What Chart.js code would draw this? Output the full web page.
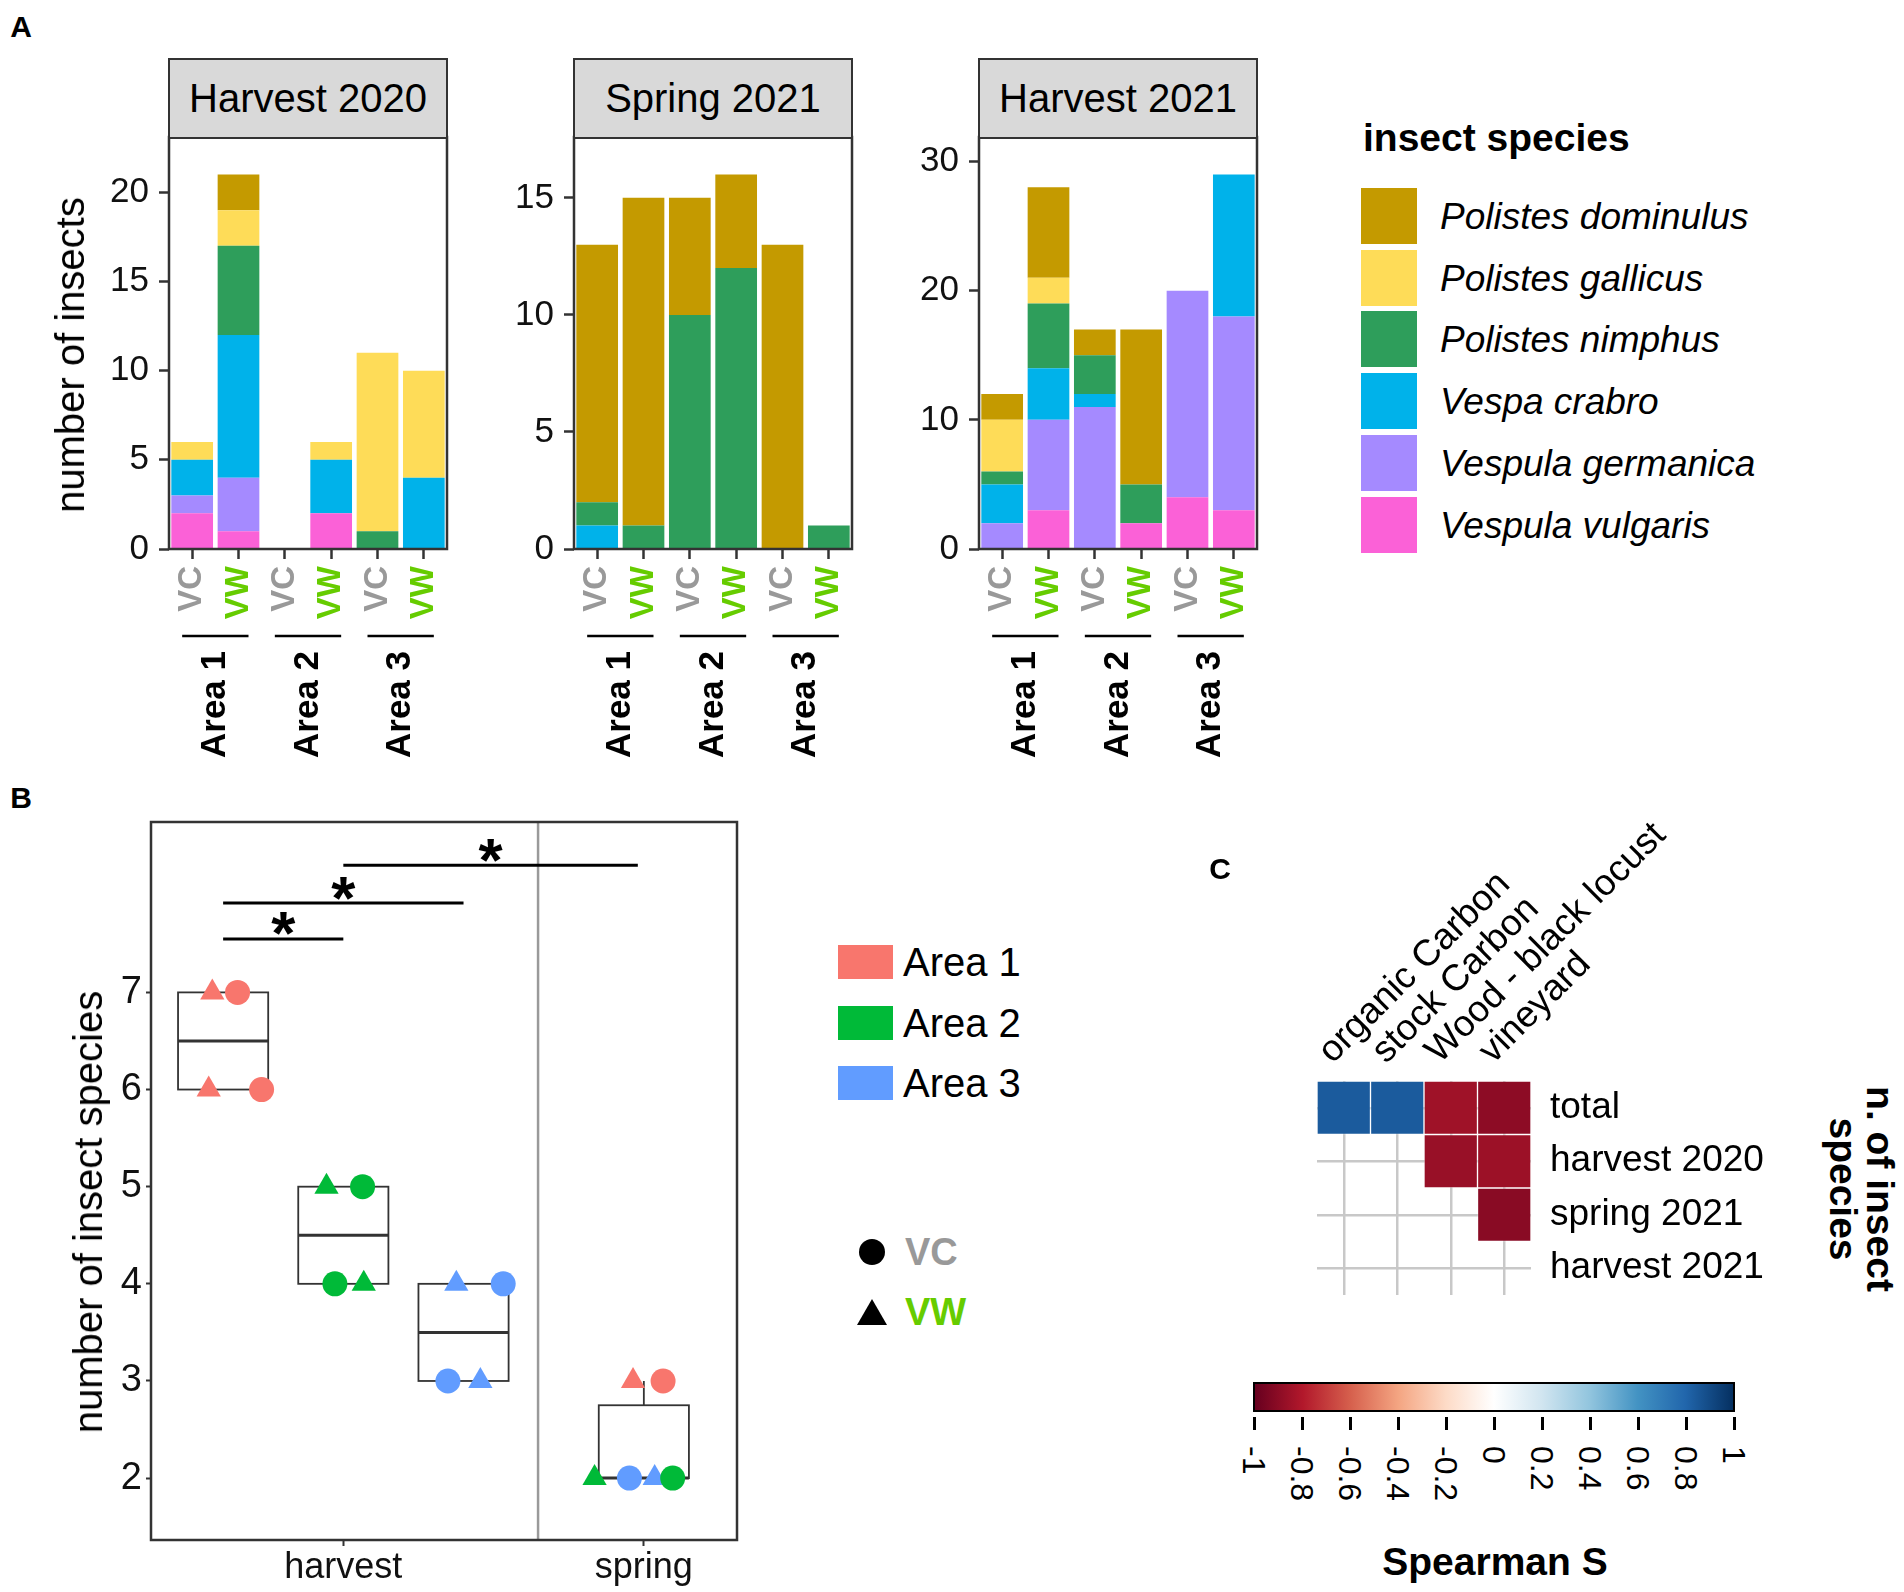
<!DOCTYPE html>
<html>
<head>
<meta charset="utf-8">
<title>Insect species by area and season</title>
<script src="https://cdn.jsdelivr.net/npm/chart.js@4.4.1/dist/chart.umd.min.js"></script>
<style>
  html, body { margin: 0; padding: 0; background: #fff; }
  body { position: relative; width: 1904px; height: 1592px; overflow: hidden;
         font-family: "Liberation Sans", Arial, Helvetica, sans-serif; color: #000; }
  .lbl { position: absolute; white-space: nowrap; line-height: 1; }
  .strip { position: absolute; box-sizing: border-box; background: #d9d9d9; border: 2px solid #333;
           display: flex; align-items: center; justify-content: center; font-size: 40px; }
  .box { position: absolute; }
</style>
</head>
<body>
<script>
// --- Panel A: số lượng côn trùng theo vị trí (A1 VC, A1 VW, A2 VC, A2 VW, A3 VC, A3 VW) ---
const SITES = ['VC', 'VW', 'VC', 'VW', 'VC', 'VW'];
const SITE_COLORS = ['#999999', '#66cc00'];
const AREAS = ['Area 1', 'Area 2', 'Area 3'];
const SPECIES = ['Polistes dominulus', 'Polistes gallicus', 'Polistes nimphus',
                 'Vespa crabro', 'Vespula germanica', 'Vespula vulgaris'];
const SPECIES_COLORS = ['#c49a00', '#fedc58', '#2e9e5b', '#00b2ea', '#a58aff', '#fb61d7'];

const h20_dominulus = [0, 2, 0, 0, 0, 0];
const h20_gallicus  = [1, 2, 0, 1, 10, 6];
const h20_nimphus   = [0, 5, 0, 0, 1, 0];
const h20_crabro    = [2, 8, 0, 3, 0, 4];
const h20_germanica = [1, 3, 0, 0, 0, 0];
const h20_vulgaris  = [2, 1, 0, 2, 0, 0];

const s21_dominulus = [11, 14, 5, 4, 13, 0];
const s21_gallicus  = [0, 0, 0, 0, 0, 0];
const s21_nimphus   = [1, 1, 10, 12, 0, 1];
const s21_crabro    = [1, 0, 0, 0, 0, 0];
const s21_germanica = [0, 0, 0, 0, 0, 0];
const s21_vulgaris  = [0, 0, 0, 0, 0, 0];

const h21_dominulus = [2, 7, 2, 12, 0, 0];
const h21_gallicus  = [4, 2, 0, 0, 0, 0];
const h21_nimphus   = [1, 5, 3, 3, 0, 0];
const h21_crabro    = [3, 4, 1, 0, 0, 11];
const h21_germanica = [2, 7, 11, 0, 16, 15];
const h21_vulgaris  = [0, 3, 0, 2, 4, 3];

const TICKS_H20 = [0, 5, 10, 15, 20];
const TICKS_S21 = [0, 5, 10, 15];
const TICKS_H21 = [0, 10, 20, 30];

// --- Panel B: số loài côn trùng ---
const AREA_COLORS = ['#f8766d', '#00ba38', '#619cff'];
const B_XTICKS = [2, 4.5];
const B_XLABELS = ['harvest', 'spring'];
const B_YTICKS = [2, 3, 4, 5, 6, 7];
const SEASON_SPLIT = 3.62;
const BOX_X   = [1, 2, 3, 4.5];
const BOX_LO  = [6, 4, 3, 2];
const BOX_Q1  = [6, 4, 3, 2];
const BOX_MED = [6.5, 4.5, 3.5, 2];
const BOX_Q3  = [7, 5, 4, 2.75];
const BOX_HI  = [7, 5, 4, 3];
const b_area1_vc = [{x: 1.12, y: 7}, {x: 1.32, y: 6}, {x: 4.66, y: 3}];
const b_area1_vw = [{x: 0.91, y: 7}, {x: 0.88, y: 6}, {x: 4.41, y: 3}];
const b_area2_vc = [{x: 2.16, y: 5}, {x: 1.93, y: 4}, {x: 4.74, y: 2}];
const b_area2_vw = [{x: 1.86, y: 5}, {x: 2.17, y: 4}, {x: 4.09, y: 2}];
const b_area3_vc = [{x: 3.33, y: 4}, {x: 2.87, y: 3}, {x: 4.38, y: 2}];
const b_area3_vw = [{x: 2.94, y: 4}, {x: 3.14, y: 3}, {x: 4.59, y: 2}];
const SIG_FROM = [1, 1, 2];
const SIG_TO   = [2, 3, 4.45];
const SIG_Y    = [7.55, 7.92, 8.31];

// --- Panel C: tương quan Spearman ---
const C_COLS = ['organic Carbon', 'stock Carbon', 'Wood - black locust', 'vineyard'];
const C_ROWS = ['total', 'harvest 2020', 'spring 2021', 'harvest 2021'];
const rho_total       = [0.84, 0.84, -0.85, -0.9];
const rho_harvest2020 = [null, null, -0.87, -0.86];
const rho_spring2021  = [null, null, null, -0.91];
const rho_harvest2021 = [null, null, null, null];
const CB_TICKS = [-1, -0.8, -0.6, -0.4, -0.2, 0, 0.2, 0.4, 0.6, 0.8, 1];
const RDBU = ['#67001f', '#b2182b', '#d6604d', '#f4a582', '#fddbc7', '#ffffff',
              '#d1e5f0', '#92c5de', '#4393c3', '#2166ac', '#053061'];

const FONT = '"Liberation Sans", Arial, Helvetica, sans-serif';
Chart.defaults.font.family = FONT;
Chart.defaults.color = '#000';

// ---------- helpers ----------
function makeCanvas(left, top, w, h) {
    const c = document.createElement('canvas');
    c.width = w; c.height = h;
    c.style.cssText = `position:absolute;left:${left}px;top:${top}px;width:${w}px;height:${h}px;`;
    document.body.appendChild(c);
    return c;
}

// đặt chữ theo điểm neo (ax: 0 trái, 50 giữa, 100 phải), y là tâm dòng chữ
function label(text, x, y, size, extra = {}, ax = 50, rot = 0) {
    const d = document.createElement('div');
    d.className = 'lbl';
    d.innerHTML = text;
    d.style.left = x + 'px';
    d.style.top = y + 'px';
    d.style.fontSize = size + 'px';
    d.style.transform = `translate(-${ax}%, -50%)` + (rot ? ` rotate(${rot}deg)` : '');
    Object.assign(d.style, extra);
    document.body.appendChild(d);
    return d;
}

function hexRgb(h) {
    return [1, 3, 5].map(i => parseInt(h.slice(i, i + 2), 16));
}

function rdbu(v) {
    const t = (v + 1) / 2 * (RDBU.length - 1);
    const i = Math.min(Math.floor(t), RDBU.length - 2);
    const f = t - i;
    const a = hexRgb(RDBU[i]), b = hexRgb(RDBU[i + 1]);
    const c = a.map((x, k) => Math.round(x + (b[k] - x) * f));
    return `rgb(${c[0]},${c[1]},${c[2]})`;
}

const framePlugin = {
    id: 'frame',
    afterDatasetsDraw(chart) {
        const { left, top, right, bottom } = chart.chartArea;
        const ctx = chart.ctx;
        ctx.save();
        ctx.strokeStyle = '#333';
        ctx.lineWidth = 2.5;
        ctx.strokeRect(left, top, right - left, bottom - top);
        ctx.restore();
    }
};

// Nhãn nhóm "Area n" + gạch chân dưới mỗi cặp cột
const areaGroupsPlugin = {
    id: 'areaGroups',
    afterDraw(chart) {
        const xs = chart.scales.x, ctx = chart.ctx;
        const yLine = chart.chartArea.bottom + 87;
        ctx.save();
        AREAS.forEach((name, g) => {
            const x0 = xs.getPixelForValue(g * 2), x1 = xs.getPixelForValue(g * 2 + 1);
            ctx.strokeStyle = '#000';
            ctx.lineWidth = 2.5;
            ctx.beginPath();
            ctx.moveTo(x0 - 10, yLine);
            ctx.lineTo(x1 + 10, yLine);
            ctx.stroke();
            ctx.save();
            ctx.translate((x0 + x1) / 2, yLine + 15);
            ctx.rotate(-Math.PI / 2);
            ctx.font = `bold 35px ${FONT}`;
            ctx.fillStyle = '#000';
            ctx.textAlign = 'right';
            ctx.textBaseline = 'middle';
            ctx.fillText(name, 0, 0);
            ctx.restore();
        });
        ctx.restore();
    }
};

// ---------- Panel A ----------
const PANELS_A = [
    { title: 'Harvest 2020', left: 169, ticks: TICKS_H20,
      series: [h20_dominulus, h20_gallicus, h20_nimphus, h20_crabro, h20_germanica, h20_vulgaris] },
    { title: 'Spring 2021', left: 574, ticks: TICKS_S21,
      series: [s21_dominulus, s21_gallicus, s21_nimphus, s21_crabro, s21_germanica, s21_vulgaris] },
    { title: 'Harvest 2021', left: 979, ticks: TICKS_H21,
      series: [h21_dominulus, h21_gallicus, h21_nimphus, h21_crabro, h21_germanica, h21_vulgaris] }
];

function renderStackPanel(panel) {
    const AW = 278, YW = 100, PT = 44, PR = 45, XH = 231;
    const top = 137 - PT;
    const canvas = makeCanvas(panel.left - YW, top, YW + AW + PR, 780 - top);
    const totals = SITES.map((_, i) => panel.series.reduce((s, arr) => s + arr[i], 0));
    const yMax = Math.max(...totals) * 1.1;

    // ngăn xếp: Vespula vulgaris ở dưới cùng, Polistes dominulus trên cùng
    const datasets = SPECIES.map((name, k) => ({
        label: name,
        data: panel.series[k],
        backgroundColor: SPECIES_COLORS[k],
        borderWidth: 0,
        barPercentage: 0.9,
        categoryPercentage: 1
    })).reverse();

    new Chart(canvas.getContext('2d'), {
        type: 'bar',
        data: { labels: SITES, datasets },
        options: {
            responsive: false,
            animation: false,
            layout: { padding: { top: PT, right: PR, left: 0, bottom: 0 } },
            plugins: { legend: { display: false }, tooltip: { enabled: false } },
            scales: {
                x: {
                    stacked: true,
                    grid: { display: true, drawOnChartArea: false, offset: false,
                            tickLength: 10, tickWidth: 2.5, tickColor: '#333' },
                    border: { display: false },
                    ticks: {
                        autoSkip: false, minRotation: 90, maxRotation: 90, padding: 7,
                        font: { size: 33, weight: 'bold' },
                        color: c => SITE_COLORS[c.index % 2]
                    },
                    afterFit: s => { s.height = XH; }
                },
                y: {
                    stacked: true, min: 0, max: yMax,
                    afterBuildTicks: s => { s.ticks = panel.ticks.map(v => ({ value: v })); },
                    grid: { display: true, drawOnChartArea: false,
                            tickLength: 10, tickWidth: 2.5, tickColor: '#333' },
                    border: { display: false },
                    ticks: { padding: 10, font: { size: 35 }, color: '#111' },
                    afterFit: s => { s.width = YW; }
                }
            }
        },
        plugins: [framePlugin, areaGroupsPlugin]
    });

    const strip = document.createElement('div');
    strip.className = 'strip';
    Object.assign(strip.style, { left: (panel.left - 1) + 'px', top: '58px',
                                 width: (AW + 2) + 'px', height: '81px' });
    strip.textContent = panel.title;
    document.body.appendChild(strip);
}

PANELS_A.forEach(renderStackPanel);

label('A', 21, 27, 30, { fontWeight: 'bold' });
label('number of insects', 69.5, 355, 40, {}, 50, -90);

// chú giải loài
label('insect species', 1363, 137, 39, { fontWeight: 'bold' }, 0);
SPECIES.forEach((name, i) => {
    const y = 188 + i * 61.7;
    const k = document.createElement('div');
    k.className = 'box';
    Object.assign(k.style, { left: '1361px', top: y + 'px', width: '56px', height: '56px',
                             background: SPECIES_COLORS[i] });
    document.body.appendChild(k);
    label(name, 1440, y + 28, 37, { fontStyle: 'italic' }, 0);
});

// ---------- Panel B ----------
const B_SERIES = [
    { area: 0, shape: 'circle', pts: b_area1_vc }, { area: 0, shape: 'triangle', pts: b_area1_vw },
    { area: 1, shape: 'circle', pts: b_area2_vc }, { area: 1, shape: 'triangle', pts: b_area2_vw },
    { area: 2, shape: 'circle', pts: b_area3_vc }, { area: 2, shape: 'triangle', pts: b_area3_vw }
];

const boxPlugin = {
    id: 'boxes',
    beforeDatasetsDraw(chart) {
        const xs = chart.scales.x, ys = chart.scales.y, ctx = chart.ctx;
        const { top, bottom } = chart.chartArea;
        ctx.save();
        // đường chia mùa
        const vx = xs.getPixelForValue(SEASON_SPLIT);
        ctx.strokeStyle = '#9a9a9a';
        ctx.lineWidth = 2.5;
        ctx.beginPath(); ctx.moveTo(vx, top); ctx.lineTo(vx, bottom); ctx.stroke();

        ctx.strokeStyle = '#333';
        BOX_X.forEach((bx, i) => {
            const xl = xs.getPixelForValue(bx - 0.375), xr = xs.getPixelForValue(bx + 0.375);
            const xc = xs.getPixelForValue(bx);
            const yq1 = ys.getPixelForValue(BOX_Q1[i]), yq3 = ys.getPixelForValue(BOX_Q3[i]);
            ctx.lineWidth = 1.8;
            ctx.beginPath();
            ctx.moveTo(xc, yq3); ctx.lineTo(xc, ys.getPixelForValue(BOX_HI[i]));
            ctx.moveTo(xc, yq1); ctx.lineTo(xc, ys.getPixelForValue(BOX_LO[i]));
            ctx.stroke();
            ctx.fillStyle = '#fff';
            ctx.fillRect(xl, yq3, xr - xl, yq1 - yq3);
            ctx.strokeRect(xl, yq3, xr - xl, yq1 - yq3);
            ctx.lineWidth = 3;
            const ym = ys.getPixelForValue(BOX_MED[i]);
            ctx.beginPath(); ctx.moveTo(xl, ym); ctx.lineTo(xr, ym); ctx.stroke();
        });
        ctx.restore();
    },
    afterDatasetsDraw(chart) {
        const xs = chart.scales.x, ys = chart.scales.y, ctx = chart.ctx;
        ctx.save();
        ctx.strokeStyle = '#000';
        ctx.fillStyle = '#000';
        ctx.lineWidth = 3;
        ctx.font = `bold 62px ${FONT}`;
        ctx.textAlign = 'center';
        ctx.textBaseline = 'alphabetic';
        const m = ctx.measureText('*');
        const mid = (m.actualBoundingBoxAscent - m.actualBoundingBoxDescent) / 2;
        SIG_FROM.forEach((from, i) => {
            const x0 = xs.getPixelForValue(from), x1 = xs.getPixelForValue(SIG_TO[i]);
            const y = ys.getPixelForValue(SIG_Y[i]);
            ctx.beginPath(); ctx.moveTo(x0, y); ctx.lineTo(x1, y); ctx.stroke();
            ctx.fillText('*', (x0 + x1) / 2, y - 15 + mid);
        });
        ctx.restore();
    }
};

const bCanvas = makeCanvas(40, 790, 711, 802);
new Chart(bCanvas.getContext('2d'), {
    type: 'scatter',
    data: {
        datasets: B_SERIES.map(s => ({
            data: s.pts,
            pointStyle: s.shape,
            pointRadius: s.shape === 'circle' ? 12.5 : 14,
            pointBorderWidth: 0,
            backgroundColor: AREA_COLORS[s.area],
            borderColor: AREA_COLORS[s.area]
        }))
    },
    options: {
        responsive: false,
        animation: false,
        layout: { padding: { top: 32, right: 10, left: 0, bottom: 0 } },
        plugins: { legend: { display: false }, tooltip: { enabled: false } },
        scales: {
            x: {
                type: 'linear', min: 0.4, max: 5.275,
                afterBuildTicks: s => { s.ticks = B_XTICKS.map(v => ({ value: v })); },
                grid: { display: true, drawOnChartArea: false, tickLength: 6, tickWidth: 2, tickColor: '#333' },
                border: { display: false },
                ticks: { padding: 0, font: { size: 36 }, color: '#111',
                         callback: (v, i) => B_XLABELS[i] },
                afterFit: s => { s.height = 52; }
            },
            y: {
                type: 'linear', min: 1.363, max: 8.754,
                afterBuildTicks: s => { s.ticks = B_YTICKS.map(v => ({ value: v })); },
                grid: { display: true, drawOnChartArea: false, tickLength: 5, tickWidth: 2, tickColor: '#333' },
                border: { display: false },
                ticks: { padding: 4, font: { size: 38 }, color: '#111' },
                afterFit: s => { s.width = 111; }
            }
        }
    },
    plugins: [boxPlugin, framePlugin]
});

label('B', 21, 798, 30, { fontWeight: 'bold' });
label('number of insect species', 87.5, 1212, 40, {}, 50, -90);

AREAS.forEach((name, i) => {
    const y = [945, 1006, 1066][i];
    const k = document.createElement('div');
    k.className = 'box';
    Object.assign(k.style, { left: '838px', top: y + 'px', width: '55px', height: '34px',
                             background: AREA_COLORS[i] });
    document.body.appendChild(k);
    label(name, 903, y + 17, 40, {}, 0);
});
(function shapeLegend() {
    const dot = document.createElement('div');
    dot.className = 'box';
    Object.assign(dot.style, { left: '859px', top: '1239px', width: '26px', height: '26px',
                               borderRadius: '50%', background: '#000' });
    document.body.appendChild(dot);
    const tri = document.createElement('div');
    tri.className = 'box';
    Object.assign(tri.style, { left: '857px', top: '1299px', width: '30px', height: '26px',
                               background: '#000', clipPath: 'polygon(50% 0, 100% 100%, 0 100%)' });
    document.body.appendChild(tri);
    label('VC', 905, 1252, 38, { fontWeight: 'bold', color: SITE_COLORS[0] }, 0);
    label('VW', 905, 1312, 38, { fontWeight: 'bold', color: SITE_COLORS[1] }, 0);
})();

// ---------- Panel C ----------
const C_RHO = [rho_total, rho_harvest2020, rho_spring2021, rho_harvest2021];
const cCanvas = makeCanvas(1177, 800, 643, 545);
new Chart(cCanvas.getContext('2d'), {
    type: 'bar',
    data: {
        labels: C_COLS,
        datasets: C_ROWS.map((row, r) => ({
            label: row,
            data: C_RHO[r].map(v => (v === null ? null : [r - 0.5, r + 0.5])),
            backgroundColor: C_RHO[r].map(v => (v === null ? 'rgba(0,0,0,0)' : rdbu(v))),
            borderColor: 'rgba(255,255,255,0.35)',
            borderWidth: 1,
            borderSkipped: false,
            grouped: false,
            barPercentage: 1,
            categoryPercentage: 1
        }))
    },
    options: {
        responsive: false,
        animation: false,
        layout: { padding: { top: 0, right: 0, left: 140, bottom: 50 } },
        plugins: { legend: { display: false }, tooltip: { enabled: false } },
        scales: {
            x: {
                position: 'top',
                grid: { color: '#c8c8c8', lineWidth: 2.5, drawTicks: false, offset: false },
                border: { display: false },
                ticks: { autoSkip: false, minRotation: 45, maxRotation: 45, padding: 8, labelOffset: 13,
                         font: { size: 37 }, color: '#000' },
                afterFit: s => { s.height = 281; }
            },
            y: {
                position: 'right', min: -0.5, max: 3.5, reverse: true,
                afterBuildTicks: s => { s.ticks = C_ROWS.map((_, i) => ({ value: i })); },
                grid: { color: '#c8c8c8', lineWidth: 2.5, drawTicks: false },
                border: { display: false },
                ticks: { padding: 19, font: { size: 37 }, color: '#000',
                         callback: v => C_ROWS[v] },
                afterFit: s => { s.width = 289; }
            }
        }
    }
});

label('C', 1220, 869, 30, { fontWeight: 'bold' });
label('n. of insect<br>species', 1862, 1189, 39,
      { fontWeight: 'bold', lineHeight: '37px', textAlign: 'center' }, 50, 90);

// thanh màu Spearman
(function colorBar() {
    const L = 1254, R = 1734, T = 1382, H = 30;
    const bar = document.createElement('div');
    bar.className = 'box';
    const stops = RDBU.map((c, i) => `${c} ${(i / (RDBU.length - 1) * 100).toFixed(1)}%`).join(',');
    Object.assign(bar.style, { left: (L - 1) + 'px', top: T + 'px', width: (R - L + 2) + 'px',
                               height: H + 'px', boxSizing: 'border-box', border: '2px solid #000',
                               background: `linear-gradient(to right, ${stops})` });
    document.body.appendChild(bar);
    CB_TICKS.forEach(v => {
        const x = L + (v + 1) / 2 * (R - L);
        const t = document.createElement('div');
        t.className = 'box';
        Object.assign(t.style, { left: (x - 1.5) + 'px', top: '1417px', width: '3px',
                                 height: '13px', background: '#000' });
        document.body.appendChild(t);
        const d = document.createElement('div');
        d.className = 'lbl';
        d.textContent = String(v);
        Object.assign(d.style, { left: x + 'px', top: '1446px', fontSize: '32px',
                                 transformOrigin: '0 0', transform: 'rotate(90deg) translateY(-50%)' });
        document.body.appendChild(d);
    });
})();
label('Spearman S', 1495, 1561, 39, { fontWeight: 'bold' });
</script>
</body>
</html>
